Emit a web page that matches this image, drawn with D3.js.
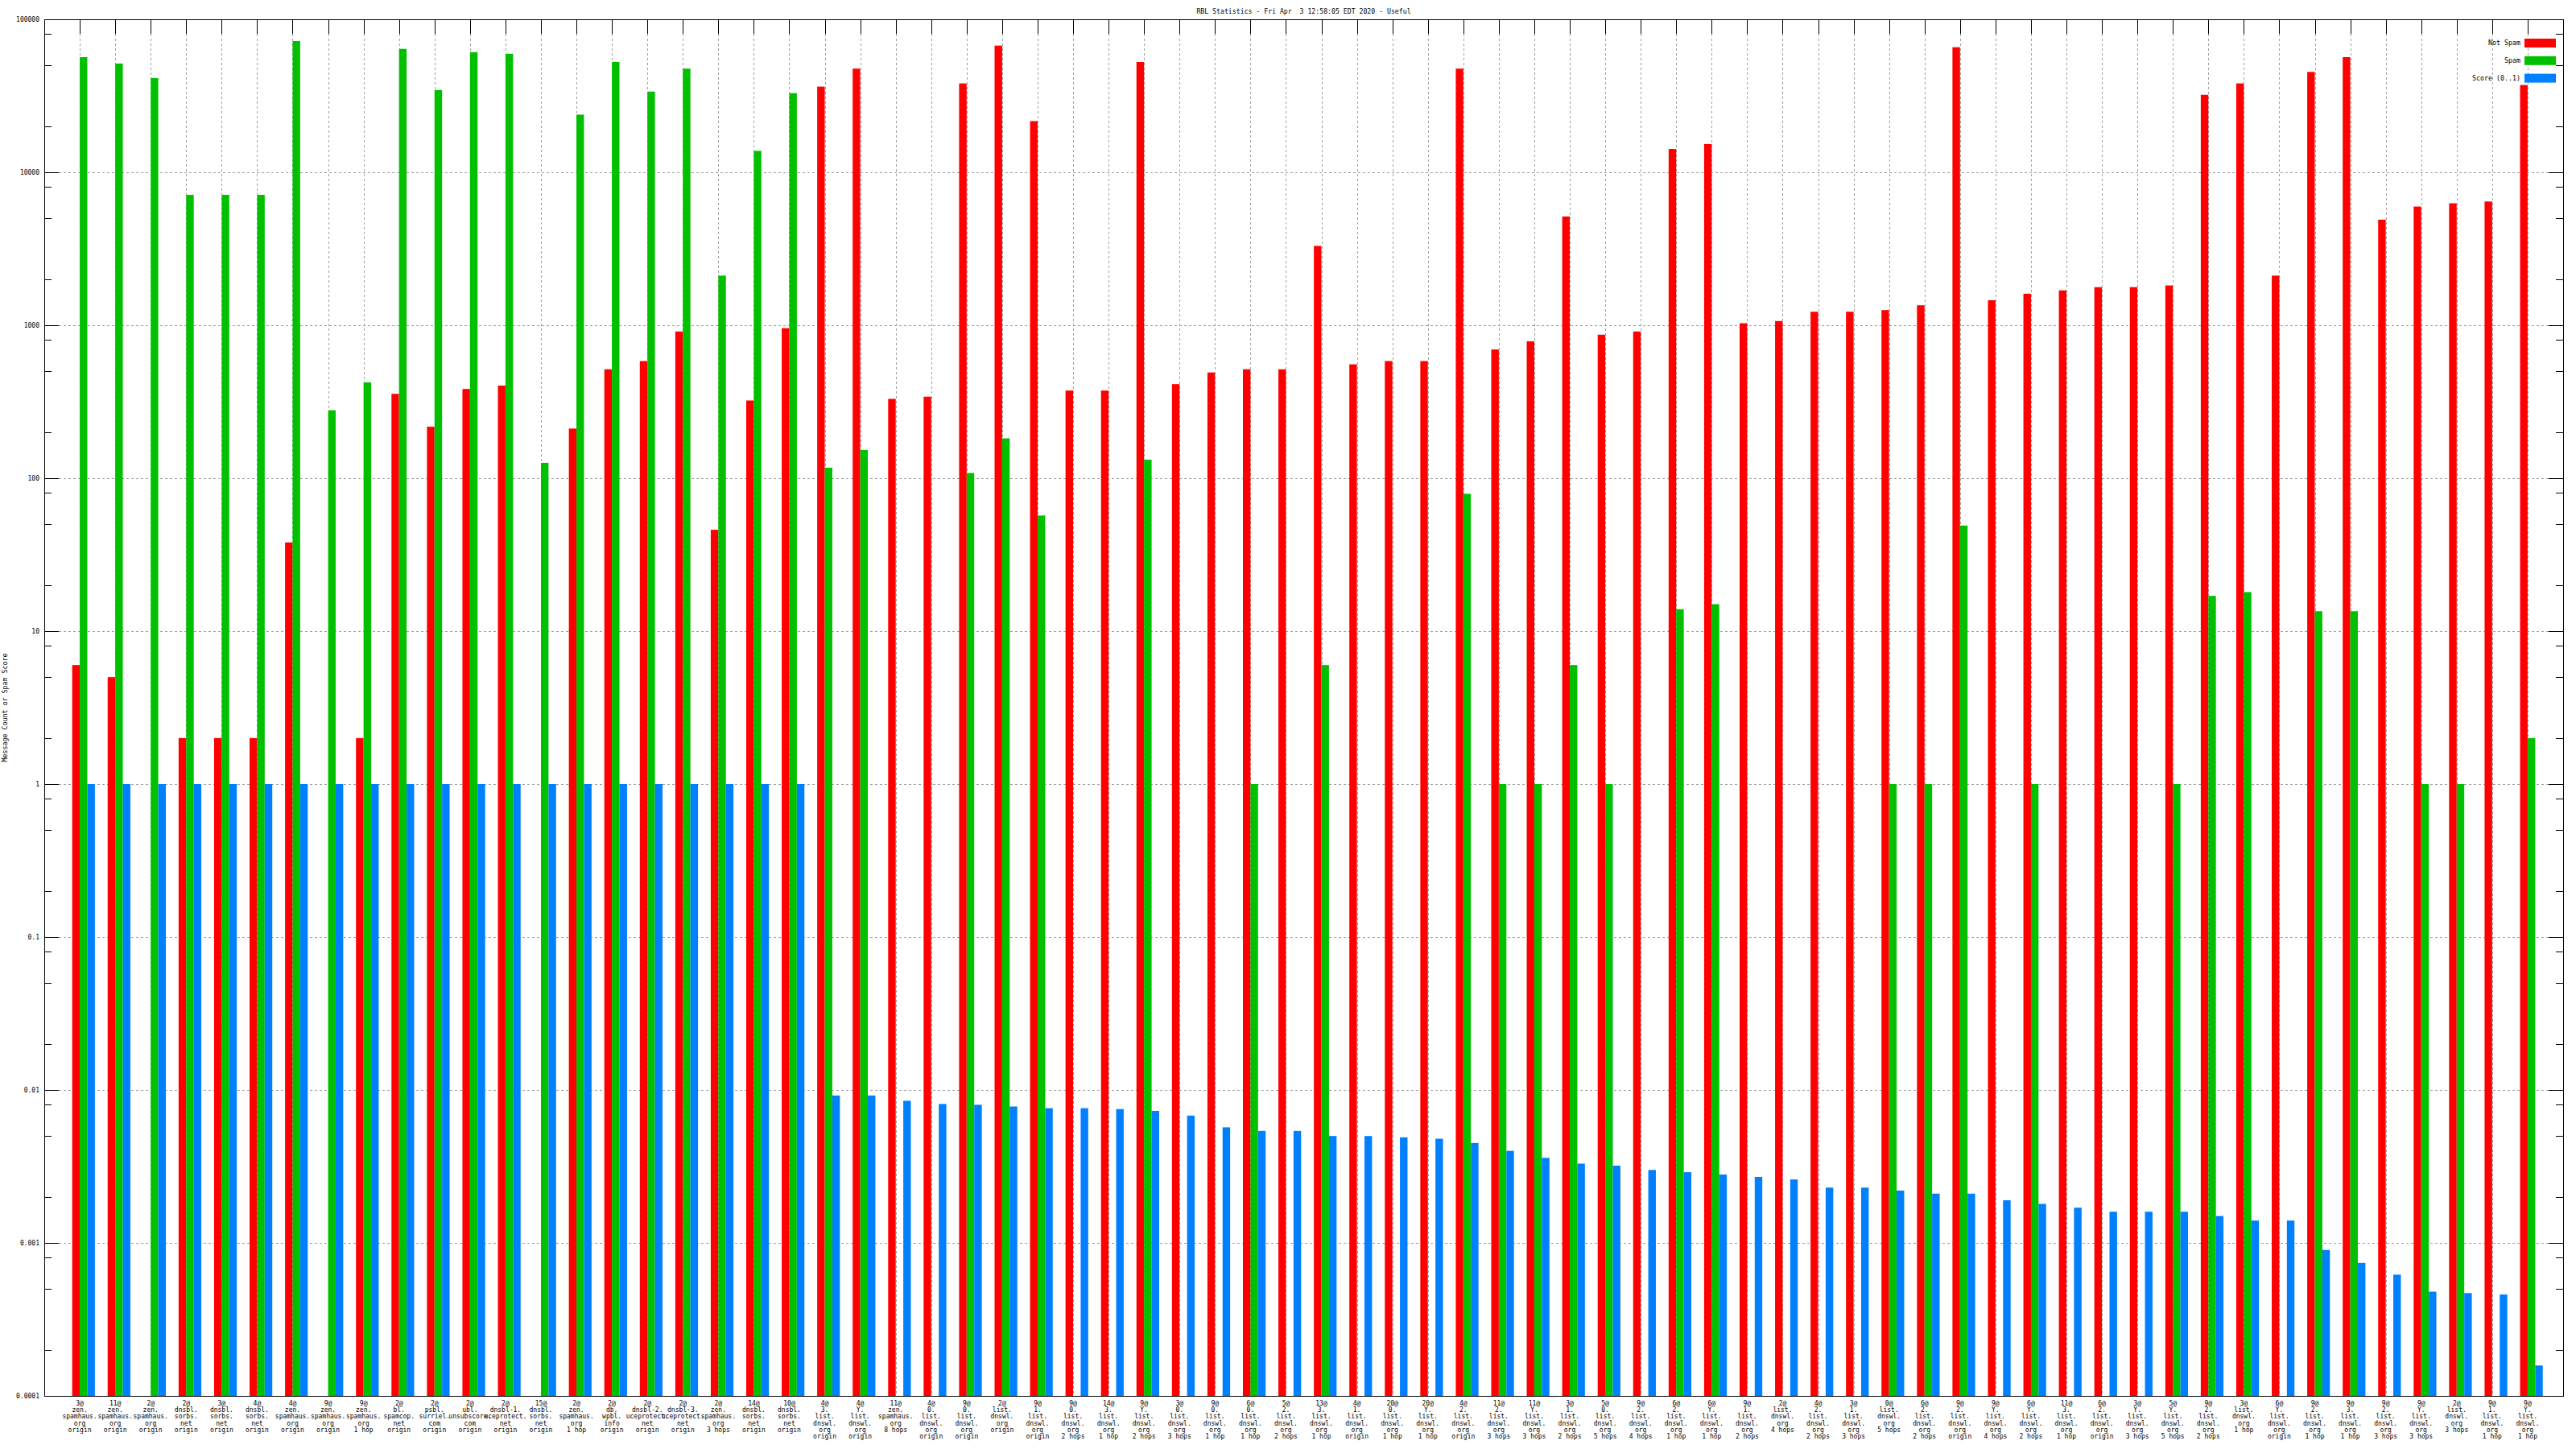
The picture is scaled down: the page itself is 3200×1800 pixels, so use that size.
<!DOCTYPE html>
<html>
<head>
<meta charset="utf-8">
<script src="https://cdn.jsdelivr.net/npm/d3@7"></script>
<style>
  body { margin: 0; background: #fff; }
  text { font-family: "DejaVu Sans Mono", monospace; fill: #000; }
</style>
</head>
<body>
<svg id="chart" width="3200" height="1800"></svg>
<script>
// tick labels: "count@list hop"
const labels = [
    "3@zen.spamhaus.org origin", "11@zen.spamhaus.org origin", "2@zen.spamhaus.org origin",
    "2@dnsbl.sorbs.net origin", "3@dnsbl.sorbs.net origin", "4@dnsbl.sorbs.net origin",
    "4@zen.spamhaus.org origin", "9@zen.spamhaus.org origin", "9@zen.spamhaus.org 1 hop",
    "2@bl.spamcop.net origin", "2@psbl.surriel.com origin", "2@ubl.unsubscore.com origin",
    "2@dnsbl-1.uceprotect.net origin", "15@dnsbl.sorbs.net origin", "2@zen.spamhaus.org 1 hop",
    "2@db.wpbl.info origin", "2@dnsbl-2.uceprotect.net origin", "2@dnsbl-3.uceprotect.net origin",
    "2@zen.spamhaus.org 3 hops", "14@dnsbl.sorbs.net origin", "10@dnsbl.sorbs.net origin",
    "4@3.list.dnswl.org origin", "4@Y.list.dnswl.org origin", "11@zen.spamhaus.org 8 hops",
    "4@0.list.dnswl.org origin", "9@0.list.dnswl.org origin", "2@list.dnswl.org origin",
    "9@1.list.dnswl.org origin", "9@0.list.dnswl.org 2 hops", "14@3.list.dnswl.org 1 hop",
    "9@Y.list.dnswl.org 2 hops", "3@0.list.dnswl.org 3 hops", "9@0.list.dnswl.org 1 hop",
    "6@0.list.dnswl.org 1 hop", "5@2.list.dnswl.org 2 hops", "13@3.list.dnswl.org 1 hop",
    "4@1.list.dnswl.org origin", "20@0.list.dnswl.org 1 hop", "20@Y.list.dnswl.org 1 hop",
    "4@2.list.dnswl.org origin", "11@2.list.dnswl.org 3 hops", "11@Y.list.dnswl.org 3 hops",
    "3@1.list.dnswl.org 2 hops", "5@0.list.dnswl.org 5 hops", "9@2.list.dnswl.org 4 hops",
    "6@2.list.dnswl.org 1 hop", "6@Y.list.dnswl.org 1 hop", "9@1.list.dnswl.org 2 hops",
    "2@list.dnswl.org 4 hops", "4@2.list.dnswl.org 2 hops", "3@1.list.dnswl.org 3 hops",
    "0@list.dnswl.org 5 hops", "6@2.list.dnswl.org 2 hops", "9@2.list.dnswl.org origin",
    "9@Y.list.dnswl.org 4 hops", "6@Y.list.dnswl.org 2 hops", "11@3.list.dnswl.org 1 hop",
    "6@2.list.dnswl.org origin", "3@Y.list.dnswl.org 3 hops", "5@Y.list.dnswl.org 5 hops",
    "9@2.list.dnswl.org 2 hops", "3@list.dnswl.org 1 hop", "6@Y.list.dnswl.org origin",
    "9@2.list.dnswl.org 1 hop", "9@3.list.dnswl.org 1 hop", "9@2.list.dnswl.org 3 hops",
    "9@Y.list.dnswl.org 3 hops", "2@list.dnswl.org 3 hops", "9@1.list.dnswl.org 1 hop",
    "9@Y.list.dnswl.org 1 hop"
]

// 0 = no bar
const notSpam = [6, 5, 0, 2, 2, 2, 38, 0, 2, 356,
    217, 383, 403, 0, 211, 515, 583, 910, 46, 322,
    957, 36300, 47600, 330, 341, 38100, 67300, 21600, 374, 374,
    52600, 412, 491, 515, 515, 3300, 555, 583, 583, 47600,
    694, 785, 5140, 867, 910, 14200, 15300, 1030, 1065, 1225,
    1225, 1256, 1350, 65700, 1456, 1607, 1690, 1774, 1774, 1820,
    32100, 38100, 2110, 45300, 56600, 4900, 5970, 6270, 6440, 37200]

const spam = [56600, 51400, 41300, 7120, 7120, 7120, 72100, 278, 423, 64100,
    34500, 61000, 59500, 126, 23800, 52600, 33700, 47600, 2110, 13800,
    32900, 117, 153, 0, 0, 108, 182, 57, 0, 0,
    132, 0, 0, 1, 0, 6, 0, 0, 0, 79,
    1, 1, 6, 1, 0, 13.9, 15, 0, 0, 0,
    0, 1, 1, 49, 0, 1, 0, 0, 0, 1,
    17, 18, 0, 13.5, 13.5, 0, 1, 1, 0, 2]

const score = [1, 1, 1, 1, 1, 1, 1, 1, 1, 1,
    1, 1, 1, 1, 1, 1, 1, 1, 1, 1,
    1, 0.0092, 0.0092, 0.0085, 0.0081, 0.0080, 0.0078, 0.0076, 0.0076, 0.0075,
    0.0073, 0.0068, 0.0057, 0.0054, 0.0054, 0.0050, 0.0050, 0.0049, 0.0048, 0.0045,
    0.0040, 0.0036, 0.0033, 0.0032, 0.0030, 0.0029, 0.0028, 0.0027, 0.0026, 0.0023,
    0.0023, 0.0022, 0.0021, 0.0021, 0.0019, 0.0018, 0.0017, 0.0016, 0.0016, 0.0016,
    0.0015, 0.0014, 0.0014, 0.00090, 0.00074, 0.00062, 0.00048, 0.00047, 0.00046, 0.000158]

const yTickValues = [0.0001, 0.001, 0.01, 0.1, 1, 10, 100, 1000, 10000, 100000]
const yTickLabels = ["0.0001", "0.001", "0.01", "0.1", "1", "10", "100", "1000", "10000", "100000"]

const seriesNames = ["Not Spam", "Spam", "Score (0..1)"]
const colors = ["#ff0000", "#00c000", "#0080ff"]

const title = "RBL Statistics - Fri Apr  3 12:58:05 EDT 2020 - Useful"

const plotL = 55, plotR = 3184, plotT = 24, plotB = 1734
const svg = d3.select("#chart")

const x = d3.scaleLinear().domain([-1, labels.length]).range([plotL, plotR])
const y = d3.scaleLog().domain([0.0001, 100000]).range([plotB, plotT])
const bw = 9.4

// minor ticks at 2, 5, 8 of each decade
const minorTicks = []
for (let e = -4; e < 5; e++) {
    [2, 5, 8].forEach(m => minorTicks.push(m * Math.pow(10, e)))
}

const idx = d3.range(labels.length)
const py = d => Math.round(y(d)) + 0.5
const px = d => Math.round(x(d)) + 0.5

// grid
const grid = svg.append("g").attr("stroke", "#a0a0a0").attr("stroke-dasharray", "3,3").attr("stroke-width", 1)
grid.selectAll("line.h").data(yTickValues.slice(1, -1)).enter().append("line")
    .attr("x1", plotL + 18).attr("x2", plotR - 18)
    .attr("y1", py).attr("y2", py)
grid.selectAll("line.v").data(idx).enter().append("line")
    .attr("x1", px).attr("x2", px)
    .attr("y1", plotT + 18).attr("y2", plotB)

// bars
const series = [notSpam, spam, score]
series.forEach((vals, s) => {
    svg.append("g").attr("fill", colors[s])
        .selectAll("rect").data(idx.filter(i => vals[i] > 0)).enter().append("rect")
        .attr("x", i => x(i) + (s - 1) * bw)
        .attr("width", bw)
        .attr("y", i => y(vals[i]))
        .attr("height", i => plotB - y(vals[i]))
})

// axes: ticks drawn inward, mirrored
const axisG = svg.append("g").attr("stroke", "#000").attr("stroke-width", 1)
axisG.selectAll("line.ymaj").data(yTickValues).enter().append("line")
    .attr("x1", plotL).attr("x2", plotL + 18).attr("y1", py).attr("y2", py)
axisG.selectAll("line.ymajr").data(yTickValues).enter().append("line")
    .attr("x1", plotR - 18).attr("x2", plotR).attr("y1", py).attr("y2", py)
axisG.selectAll("line.ymin").data(minorTicks).enter().append("line")
    .attr("x1", plotL).attr("x2", plotL + 9).attr("y1", py).attr("y2", py)
axisG.selectAll("line.yminr").data(minorTicks).enter().append("line")
    .attr("x1", plotR - 9).attr("x2", plotR).attr("y1", py).attr("y2", py)
axisG.selectAll("line.xtop").data(idx).enter().append("line")
    .attr("x1", px).attr("x2", px).attr("y1", plotT).attr("y2", plotT + 18)

svg.append("rect")
    .attr("x", plotL + 0.5).attr("y", plotT + 0.5)
    .attr("width", plotR - plotL).attr("height", plotB - plotT)
    .attr("fill", "none").attr("stroke", "#000").attr("stroke-width", 1)

// y tick labels
svg.append("g").selectAll("text").data(yTickValues).enter().append("text")
    .attr("x", plotL - 6).attr("y", d => y(d))
    .attr("dy", "0.35em").attr("text-anchor", "end")
    .style("font-size", "8px")
    .text((d, i) => yTickLabels[i])

// x tick labels, split at @, dots and hop
const splitLabel = (s) => {
    const at = s.indexOf("@")
    const sp = s.indexOf(" ")
    const parts = s.slice(at + 1, sp).split(".")
    return [s.slice(0, at + 1)].concat(parts.map((p, k) => k < parts.length - 1 ? p + "." : p), [s.slice(sp + 1)])
}
const xl = svg.append("g").selectAll("text").data(idx).enter().append("text")
    .attr("x", i => x(i)).attr("y", plotB + 12)
    .attr("text-anchor", "middle")
    .style("font-size", "8px")
xl.selectAll("tspan").data(i => splitLabel(labels[i]).map(t => ({t, i}))).enter().append("tspan")
    .attr("x", d => x(d.i))
    .attr("dy", (d, k) => k === 0 ? 0 : 8.2)
    .text(d => d.t)

// title
svg.append("text").attr("x", (plotL + plotR) / 2).attr("y", 17)
    .attr("text-anchor", "middle").style("font-size", "8.2px").style("white-space", "pre")
    .text(title)

// y axis label
svg.append("text")
    .attr("transform", `translate(9,${(plotT + plotB) / 2}) rotate(-90)`)
    .attr("text-anchor", "middle").style("font-size", "8.3px")
    .text("Message Count or Spam Score")

// legend
const legend = svg.append("g").selectAll("g").data(seriesNames).enter().append("g")
    .attr("transform", (d, i) => `translate(0,${53.5 + i * 21.8})`)
legend.append("text").attr("x", 3131).attr("dy", "0.35em")
    .attr("text-anchor", "end").style("font-size", "8.3px").text(d => d)
legend.append("rect").attr("x", 3136).attr("y", -5.5)
    .attr("width", 39).attr("height", 11)
    .attr("fill", (d, i) => colors[i])
</script>
</body>
</html>
